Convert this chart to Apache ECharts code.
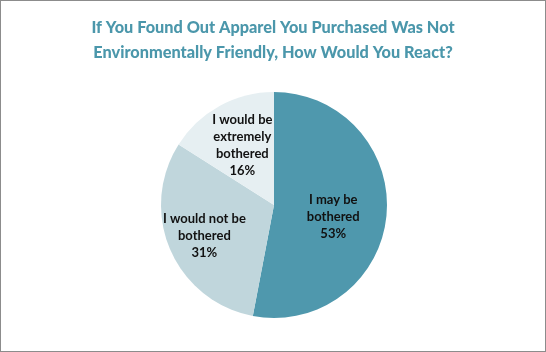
<!DOCTYPE html>
<html>
<head>
<meta charset="utf-8">
<script src="https://cdn.jsdelivr.net/npm/echarts@6/dist/echarts.min.js"></script>
<style>
  html, body { margin: 0; padding: 0; background: #fff; }
  #chart { width: 546px; height: 352px; box-sizing: border-box; border: 1px solid #8c8c8c; }
</style>
</head>
<body>
<div id="chart"></div>
<script>
// chart data
const categories = ['I may be\nbothered', 'I would not be\nbothered', 'I would be\nextremely\nbothered']
const shares = [53, 31, 16]
const sliceColors = ['#4f98ad', '#c0d6dc', '#e6eff2']
// nudge the inside labels to where the original put them
const labelOffsets = [[0, 6], [-15, 7], [-3, -8]]

const chart = echarts.init(document.getElementById('chart'), null, { renderer: 'canvas' })

const option = {
  animation: false,
  title: {
    text: 'If You Found Out Apparel You Purchased Was Not\nEnvironmentally Friendly, How Would You React?',
    left: 'center',
    top: 9,
    textStyle: {
      color: '#4b97ab',
      fontFamily: 'Lato',
      fontWeight: 900,
      fontSize: 16.3,
      lineHeight: 25
    }
  },
  series: [{
    type: 'pie',
    center: [273, 204],
    radius: 113,
    startAngle: 90,
    clockwise: true,
    data: categories.map((name, i) => ({
      name,
      value: shares[i],
      itemStyle: { color: sliceColors[i] },
      label: { offset: labelOffsets[i] }
    })),
    label: {
      show: true,
      position: 'inside',
      formatter: '{b}\n{c}%',
      color: '#111',
      fontFamily: 'Lato',
      fontWeight: 'bold',
      fontSize: 13,
      lineHeight: 17
    },
    labelLine: { show: false },
    emphasis: { disabled: true }
  }]
}
chart.setOption(option)
</script>
</body>
</html>
